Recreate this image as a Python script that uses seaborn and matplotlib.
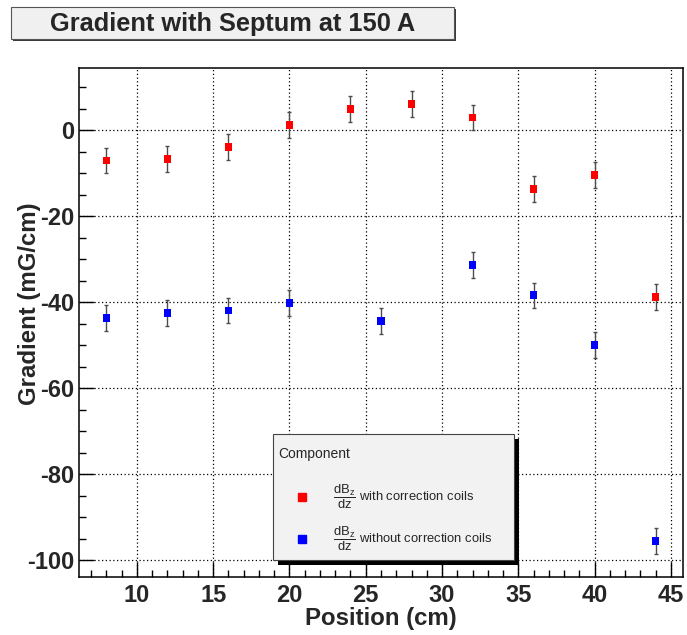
"""
Gradient with Septum at 150 A
=============================

"""
# Libraries
import numpy as np
import pandas as pd
import seaborn as sns
import matplotlib
matplotlib.use("Agg")
import matplotlib.pyplot as plt

from matplotlib.patches import Rectangle
from matplotlib.ticker import MultipleLocator

# -------------------
# DATA
# -------------------
# dBz/dz with correction coils
pos_with = [8, 12, 16, 20, 24, 28, 32, 36, 40, 44]
grad_with = [-7.0, -6.7, -3.8, 1.2, 4.9, 6.2, 3.0, -13.7, -10.3, -38.8]
err_with = [3.0, 3.0, 3.0, 3.0, 3.0, 3.0, 3.0, 3.0, 3.0, 3.0]

# dBz/dz without correction coils
pos_without = [8, 12, 16, 20, 26, 32, 36, 40, 44]
grad_without = [-43.7, -42.5, -41.9, -40.1, -44.3, -31.4, -38.4, -50.0, -95.6]
err_without = [3.0, 3.0, 3.0, 3.0, 3.0, 3.0, 3.0, 3.0, 3.0]

labels = ['with correction coils', 'without correction coils']
colors = {'with correction coils': '#ff0000',
          'without correction coils': '#0000ff'}

# -------------------
# PLOTTING SETTINGS
# -------------------
W, H = 687, 635

sns.set_style('ticks')
plt.rcParams['font.family'] = ['Liberation Sans', 'DejaVu Sans']
plt.rcParams['axes.unicode_minus'] = False
plt.rcParams['mathtext.fontset'] = 'custom'
plt.rcParams['mathtext.rm'] = 'Liberation Sans'
plt.rcParams['mathtext.it'] = 'Liberation Sans'
plt.rcParams['mathtext.bf'] = 'Liberation Sans:bold'


def px(x, y):
    """Pixel (from top-left) to figure fraction."""
    return x / W, 1 - y / H


# Build table
data = pd.concat([
    pd.DataFrame({'pos': pos_with, 'grad': grad_with,
                  'err': err_with, 'comp': labels[0]}),
    pd.DataFrame({'pos': pos_without, 'grad': grad_without,
                  'err': err_without, 'comp': labels[1]}),
])

# Create figure
fig = plt.figure(figsize=(W / 100, H / 100), dpi=100)
l, b = px(79, 577)
r, t = px(683, 67.5)
ax = fig.add_axes([l, b, r - l, t - b])

# Error bars
for c, d in data.groupby('comp'):
    ax.errorbar(d.pos, d.grad, yerr=d.err, fmt='none',
                ecolor='#4d4d4d', elinewidth=1.0, capsize=1.6,
                capthick=1.0, zorder=2)

# Markers
sns.scatterplot(data=data, x='pos', y='grad', hue='comp',
                palette=colors, marker='s', s=32, linewidth=0,
                legend=False, ax=ax, zorder=3)

# Configure axes
ax.set(xlim=(6.2, 45.8), ylim=(-103.95, 14.65), xlabel='', ylabel='')
ax.xaxis.set_major_locator(MultipleLocator(5))
ax.xaxis.set_minor_locator(MultipleLocator(1))
ax.yaxis.set_major_locator(MultipleLocator(20))
ax.yaxis.set_minor_locator(MultipleLocator(5))
ax.tick_params(which='both', direction='in', width=1.0, color='black',
               top=False, right=False)
ax.tick_params(which='major', length=11)
ax.tick_params(which='minor', length=5)
ax.tick_params(axis='x', which='major', pad=5, labelsize=17)
ax.tick_params(axis='y', which='major', pad=3.5, labelsize=17)
for lab in ax.get_xticklabels() + ax.get_yticklabels():
    lab.set_fontweight('bold')
for s in ax.spines.values():
    s.set_linewidth(1.1)
    s.set_color('black')
ax.grid(True, which='major', color='black', linestyle=(0, (1, 2)),
        linewidth=0.9)

# Axis titles
fig.text(*px(381, 619), 'Position (cm)', ha='center', va='center',
         fontsize=17.3, fontweight='bold')
fig.text(*px(30, 304), 'Gradient (mG/cm)', ha='center', va='center',
         rotation=90, fontsize=17.3, fontweight='bold')

# Title box
x0, y0 = px(11, 39)
x1, y1 = px(454, 7)
fig.add_artist(Rectangle(px(13, 41), x1 - x0, y1 - y0,
                         transform=fig.transFigure, facecolor='#3a3a3a',
                         edgecolor='none', zorder=5))
fig.add_artist(Rectangle((x0, y0), x1 - x0, y1 - y0,
                         transform=fig.transFigure, facecolor='#f0f0f0',
                         edgecolor='#555555', linewidth=0.8, zorder=6))
fig.text(*px(233, 23.5), 'Gradient with Septum at 150 A', ha='center',
         va='center', fontsize=18.3, fontweight='bold', zorder=7)

# Legend box
x0, y0 = px(272.5, 560)
x1, y1 = px(514, 434)
fig.add_artist(Rectangle(px(277.5, 565), x1 - x0, y1 - y0,
                         transform=fig.transFigure, facecolor='black',
                         edgecolor='none', zorder=5))
fig.add_artist(Rectangle((x0, y0), x1 - x0, y1 - y0,
                         transform=fig.transFigure, facecolor='#f2f2f2',
                         edgecolor='#444444', linewidth=0.8, zorder=6))
fig.text(*px(278, 454), 'Component', ha='left', va='center',
         fontsize=10, zorder=7)
for lab, yy in zip(labels, [497, 539]):
    fig.add_artist(plt.Line2D([px(302, 0)[0]], [px(0, yy)[1]],
                              marker='s', markersize=5.2, linestyle='none',
                              color=colors[lab], transform=fig.transFigure,
                              zorder=7))
    fig.text(*px(333, yy), r'$\dfrac{\mathrm{dB_z}}{\mathrm{dz}}$ ' + lab,
             ha='left', va='center', fontsize=9.4, zorder=7)

# Save
fig.savefig('out.png', dpi=100)
